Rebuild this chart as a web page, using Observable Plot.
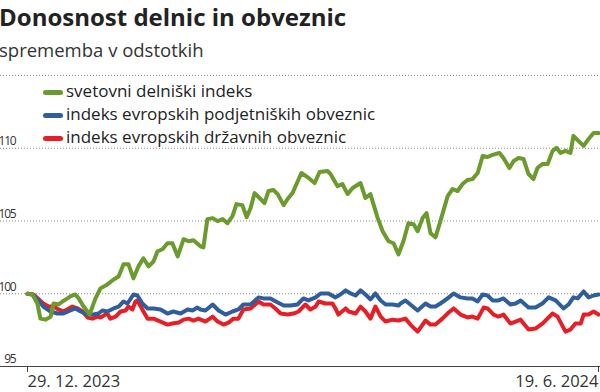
<!DOCTYPE html>
<html><head><meta charset="utf-8">
<script src="https://cdn.jsdelivr.net/npm/d3@7"></script>
<script src="https://cdn.jsdelivr.net/npm/@observablehq/plot@0.6"></script>
<style>
body{margin:0;width:600px;height:392px;overflow:hidden;background:#fff;font-family:"Open Sans",sans-serif;position:relative}
#title{position:absolute;left:-1px;top:5px;font-size:24px;font-weight:700;line-height:24px;color:#222;white-space:nowrap}
#subtitle{position:absolute;left:-1px;top:41px;font-size:18.5px;line-height:18.5px;color:#333;white-space:nowrap}
#chart{position:absolute;left:0;top:64px}
#legend{position:absolute;left:43px;top:0;font-size:17px;line-height:17px;color:#222}
.row{position:absolute;left:0;white-space:nowrap;height:17px}
.row span.t{position:absolute;left:23px;top:0}
.row span.sw{position:absolute;left:0;top:8px;width:20px;height:4.5px;border-radius:2.5px}
#chart g[aria-label="y-axis tick label"] text{letter-spacing:-1.2px}
</style>
</head><body>
<div id="title">Donosnost delnic in obveznic</div>
<div id="subtitle">sprememba v odstotkih</div>
<div id="chart"></div>
<div id="legend"></div>
<script>
// series names and colours (legend order)
const seriesNames = ["svetovni delniški indeks", "indeks evropskih podjetniških obveznic", "indeks evropskih državnih obveznic"];
const seriesColors = ["#6b9a2d", "#2f5e9c", "#e61f27"];

// [days since 29. 12. 2023, index value]
const svetovni = [
[0,100],[1.5,99.95],[3.0,99.33],[3.9,98.29],[5.5,98.22],[7.0,98.42],[7.9,99.33],[9.4,99.26],[10.6,99.47],[12.1,99.68],
[13.0,99.82],[14.5,99.95],[15.5,99.68],[17.0,99.12],[18.8,98.57],[20.6,99.68],[22.1,100.37],[24.2,100.64],[26.1,100.98],[27.6,101.19],
[29.1,102.02],[30.6,102.02],[32.1,101.06],[33.6,101.88],[35.1,102.44],[36.7,101.88],[38.2,102.23],[39.4,102.92],[40.9,103.06],[42.4,103.47],
[43.9,103.47],[45.5,102.57],[47.3,103.75],[48.8,103.61],[50.3,103.68],[52.4,103.26],[53.3,103.19],[54.5,105.13],[56.1,105.20],[57.6,104.99],
[59.1,105.13],[60.6,104.85],[62.1,105.33],[63.3,106.16],[65.1,106.09],[66.4,105.26],[67.6,105.89],[68.8,106.92],[70.3,106.58],[71.8,106.23],
[73.0,107.06],[74.5,107.13],[75.8,106.85],[77.6,106.09],[78.8,106.51],[80.3,106.92],[81.5,107.54],[83.0,108.30],[84.8,108.02],[87.0,107.61],
[88.5,108.37],[90.9,108.44],[91.8,108.23],[93.9,107.40],[95.4,107.54],[97.0,106.85],[98.5,107.27],[100.9,107.61],[102.4,106.58],[103.9,106.85],
[106.1,105.20],[107.6,104.30],[109.4,103.61],[110.9,103.47],[112.4,102.71],[113.9,103.61],[115.4,104.85],[117.0,104.78],[118.2,104.30],[119.7,105.20],
[120.9,105.54],[122.1,104.16],[123.6,103.88],[125.1,104.99],[127.3,106.71],[128.8,107.20],[130.3,107.06],[131.8,107.54],[133.3,107.82],[134.8,107.88],
[136.4,108.30],[137.9,109.47],[139.4,109.40],[140.9,109.54],[143.0,109.68],[144.2,109.33],[146.0,108.64],[147.3,109.13],[148.8,109.33],[150.3,109.26],
[151.8,108.23],[153.3,107.88],[154.5,108.64],[156.0,108.92],[157.6,108.92],[159.1,109.82],[160.3,110.03],[161.5,109.68],[163.0,109.82],[164.5,109.68],
[165.4,110.85],[166.9,110.51],[168.5,110.16],[170.0,110.64],[171.5,111.05],[173.0,111.05]
];
const podjetniske = [
[0,100],[1.5,99.95],[3.0,99.61],[4.8,99.12],[7.0,98.78],[9.1,98.64],[10.9,98.64],[13.0,98.85],[14.5,98.99],[16.1,98.78],
[18.2,98.57],[20.0,98.57],[21.5,98.64],[22.7,98.85],[24.2,98.78],[26.1,98.99],[27.6,99.12],[29.1,99.47],[30.3,99.33],[32.1,99.95],
[33.3,99.88],[34.8,99.33],[36.4,98.99],[38.2,98.99],[40.3,98.92],[42.4,98.64],[44.2,98.78],[46.4,98.64],[48.5,98.92],[50.0,98.85],
[51.5,99.05],[52.4,98.92],[53.9,98.85],[56.1,99.26],[57.9,98.85],[60.0,98.57],[62.1,98.78],[63.9,98.92],[65.4,99.26],[67.6,99.26],
[70.0,99.75],[71.5,99.68],[73.6,99.68],[75.8,99.40],[77.6,99.19],[79.7,99.19],[81.8,99.26],[83.6,99.68],[85.1,99.54],[87.3,99.75],
[88.8,100.02],[91.2,100.02],[93.3,99.75],[94.8,99.95],[96.4,100.23],[97.9,100.02],[99.4,99.88],[100.9,100.23],[102.4,99.95],[103.9,99.61],
[105.4,100.02],[107.0,99.54],[108.5,99.26],[110.6,99.26],[112.4,99.19],[113.0,99.33],[114.5,99.54],[116.0,99.26],[118.2,98.85],[120.6,99.33],
[122.1,99.12],[123.6,99.12],[125.1,99.33],[127.3,99.68],[129.1,100.02],[131.2,99.75],[133.3,99.68],[134.8,99.68],[136.4,99.47],[137.9,99.95],
[139.4,99.88],[140.9,99.54],[142.7,99.54],[144.2,99.68],[146.3,99.26],[147.9,99.33],[149.4,99.54],[151.8,99.05],[153.9,99.05],[156.0,99.33],
[157.9,99.75],[160.0,99.54],[162.4,98.99],[163.9,99.26],[165.4,99.75],[166.7,99.68],[168.5,100.16],[170.0,99.75],[171.5,99.88],[173.0,99.95]
];
const drzavne = [
[0,100],[1.8,99.95],[4.8,99.33],[6.4,99.12],[7.9,99.12],[9.4,98.92],[10.9,98.78],[13.6,99.12],[15.2,98.99],[16.7,98.78],
[18.2,98.37],[19.7,98.29],[21.2,98.43],[22.1,98.37],[24.2,98.64],[25.1,98.29],[26.7,98.43],[28.2,98.78],[29.7,98.85],[30.6,99.12],
[31.8,98.92],[32.7,99.47],[33.3,99.54],[34.8,98.92],[36.4,98.29],[38.2,98.29],[40.3,98.09],[42.4,97.88],[43.9,97.95],[45.8,98.02],
[47.3,98.22],[48.8,98.29],[50.3,98.16],[51.8,98.29],[53.9,98.09],[56.1,98.43],[57.6,98.09],[59.4,97.88],[60.9,98.02],[62.4,98.29],
[63.9,98.29],[65.4,98.92],[67.6,98.99],[70.0,99.47],[71.5,99.26],[73.6,99.26],[75.1,98.99],[76.7,98.64],[78.8,98.57],[80.6,98.64],
[82.1,98.78],[84.2,99.26],[85.7,98.92],[87.3,99.12],[88.2,99.47],[90.3,99.33],[92.4,99.33],[93.3,98.99],[94.2,98.57],[96.4,98.99],
[97.3,98.78],[99.4,98.64],[100.9,99.12],[102.4,98.78],[103.9,98.29],[105.4,99.12],[107.0,98.43],[108.5,98.09],[110.6,98.22],[112.4,98.16],
[114.5,98.29],[116.0,97.88],[118.2,97.40],[120.6,98.16],[122.1,97.88],[123.6,97.88],[125.7,98.29],[127.6,98.71],[129.1,98.99],[131.2,98.57],
[133.3,98.37],[134.8,98.43],[136.4,98.29],[138.2,99.05],[139.4,98.99],[141.2,98.57],[142.7,98.43],[144.2,98.57],[146.3,97.95],[147.9,98.09],
[149.4,98.22],[151.8,97.54],[153.9,97.61],[156.0,97.95],[159.1,98.64],[160.6,98.43],[163.0,97.40],[164.5,97.54],[166.0,97.95],[167.6,97.95],
[168.5,98.57],[170.0,98.57],[171.5,98.78],[173.0,98.57]
];
const seriesData = [svetovni, podjetniske, drzavne];

// axis
const yLabels = [95, 100, 105, 110];
const gridLines = [100, 105, 110, 115];
const startDate = new Date(2023, 11, 29);
const endDate = new Date(2024, 5, 19);

const toDate = d => new Date(startDate.getTime() + d * 864e5);
const rows = [];
for (let i = seriesNames.length - 1; i >= 0; i--) {
  for (const [d, v] of seriesData[i]) rows.push({date: toDate(d), value: v, series: seriesNames[i]});
}
const fmt = d => `${d.getDate()}. ${d.getMonth() + 1}. ${d.getFullYear()}`;

const plot = Plot.plot({
  width: 600, height: 328,
  marginTop: 11, marginBottom: 26, marginLeft: 27, marginRight: 2,
  style: {fontFamily: "'Open Sans', sans-serif", color: "#333", background: "transparent", overflow: "visible"},
  x: {type: "time", domain: [startDate, endDate]},
  y: {domain: [95, 115]},
  color: {domain: seriesNames, range: seriesColors},
  marks: [
    Plot.ruleY(gridLines, {stroke: "#8a8a8a", strokeDasharray: "1,2", insetLeft: -27, insetRight: -2}),
    Plot.axisY(yLabels, {tickSize: 0, tickPadding: 12, dy: -7, fontSize: 12, textAnchor: "end", label: null, fill: "#333"}),
    Plot.lineY(rows, {x: "date", y: "value", z: "series", stroke: "series", strokeWidth: 4, strokeLinejoin: "round", strokeLinecap: "round"}),
    Plot.ruleY([95], {stroke: "#444", strokeWidth: 1, insetLeft: -27, insetRight: -2}),
    Plot.axisX([startDate], {tickSize: 6, tickPadding: 3, fontSize: 16.5, textAnchor: "start", tickFormat: fmt, label: null, stroke: "#444"}),
    Plot.axisX([endDate], {tickSize: 6, tickPadding: 3, fontSize: 16.5, textAnchor: "end", tickFormat: fmt, label: null, stroke: "#444"})
  ]
});
document.getElementById("chart").appendChild(plot);

// legend
const legend = document.getElementById("legend");
const legendTops = [82, 105, 128];
seriesNames.forEach((name, i) => {
  const row = document.createElement("div");
  row.className = "row";
  row.style.top = legendTops[i] + "px";
  const sw = document.createElement("span");
  sw.className = "sw";
  sw.style.background = seriesColors[i];
  const t = document.createElement("span");
  t.className = "t";
  t.textContent = name;
  row.appendChild(sw); row.appendChild(t);
  legend.appendChild(row);
});
</script>
</body></html>
